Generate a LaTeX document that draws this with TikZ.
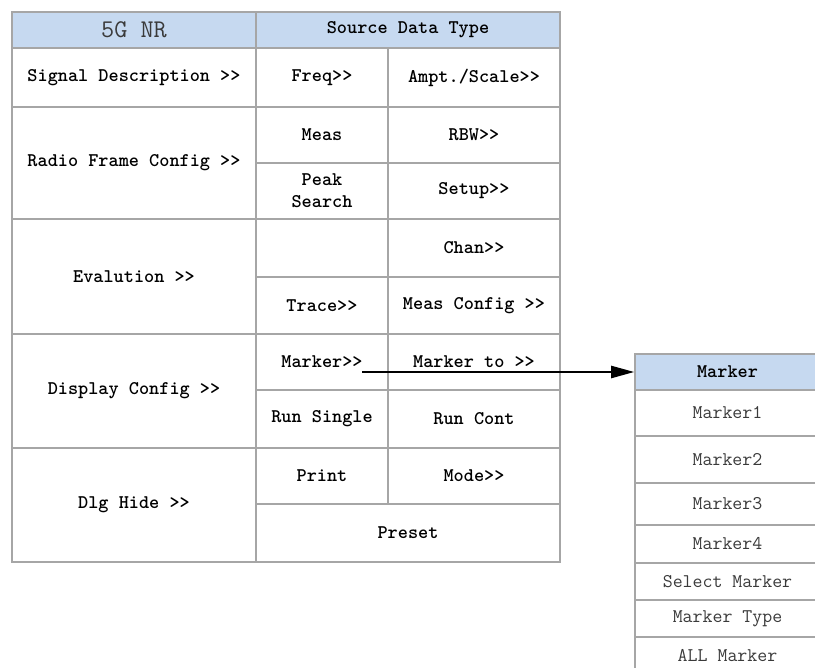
\documentclass[tikz,border=0pt]{standalone}
\usepackage{fontspec}
\usetikzlibrary{arrows.meta}
\definecolor{nrgrid}{HTML}{A6A6A6}
\definecolor{nrhead}{HTML}{C6D9F0}
\definecolor{nrink}{HTML}{000000}
\definecolor{nrmuted}{HTML}{3A3A3A}
\tikzset{
  nrcell/.style={
    draw=nrgrid, line width=1.1pt, inner sep=0pt,
    font=\ttfamily\bfseries\fontsize{11}{12.5}\selectfont,
    text=nrink, align=center},
  nrhead/.style={nrcell, fill=nrhead},
  nritem/.style={nrcell,
    font=\ttfamily\fontsize{11}{12.5}\selectfont, text=nrmuted},
  cellsize/.style 2 args={minimum width=#1*0.02cm,
    minimum height=#2*0.02cm},
  nrarrow/.style={-{Triangle[length=13pt, width=7pt]}, draw=nrink,
    line width=0.8pt},
}

\begin{document}
\begin{tikzpicture}[x=0.02cm, y=-0.02cm]
\clip (0, 0) rectangle (815, 668);
\fill[white] (0, 0) rectangle (815, 668);

% Header row.
\node[nrhead, cellsize={244}{36},
  font=\ttfamily\fontsize{14.5}{16}\selectfont, text=nrmuted]
  (mode) at (134, 30) {5G NR};
\node[nrhead, cellsize={304}{36}] (srctype) at (408, 30)
  {Source Data Type};

% ------------------------------------------------------------ left column
\node[nrcell, cellsize={244}{59}] (sigdesc) at (134, 77.5)
  {Signal Description >>};
\node[nrcell, cellsize={244}{112}] (radio) at (134, 163)
  {Radio Frame Config >>};
\node[nrcell, cellsize={244}{115}] (evalu) at (134, 276.5)
  {Evalution >>};
\node[nrcell, cellsize={244}{114}] (dispconf) at (134, 391)
  {Display Config >>};
\node[nrcell, cellsize={244}{114}] (dlghide) at (134, 505)
  {Dlg Hide >>};

% ------------------------------------------------------------ soft keys
\node[nrcell, cellsize={132}{59}] (freq) at (322, 77.5) {Freq>>};
\node[nrcell, cellsize={172}{59}] (ampt) at (474, 77.5) {Ampt./Scale>>};
\node[nrcell, cellsize={132}{56}] (meas) at (322, 135) {Meas};
\node[nrcell, cellsize={172}{56}] (rbw) at (474, 135) {RBW>>};
\node[nrcell, cellsize={132}{56}] (peak) at (322, 191) {Peak\\Search};
\node[nrcell, cellsize={172}{56}] (setup) at (474, 191) {Setup>>};
\node[nrcell, cellsize={132}{58}] (blank) at (322, 248) {};
\node[nrcell, cellsize={172}{58}] (chan) at (474, 248) {Chan>>};
\node[nrcell, cellsize={132}{57}] (trace) at (322, 305.5) {Trace>>};
\node[nrcell, cellsize={172}{57}] (measconf) at (474, 305.5)
  {Meas Config >>};
\node[nrcell, cellsize={132}{56}] (marker) at (322, 362) {Marker>>};
\node[nrcell, cellsize={172}{56}] (markerto) at (474, 362)
  {Marker to >>};
\node[nrcell, cellsize={132}{58}] (runsingle) at (322, 419) {Run Single};
\node[nrcell, cellsize={172}{58}] (runcont) at (474, 419) {Run Cont};
\node[nrcell, cellsize={132}{56}] (print) at (322, 476) {Print};
\node[nrcell, cellsize={172}{56}] (modekey) at (474, 476) {Mode>>};
\node[nrcell, cellsize={304}{58}] (preset) at (408, 533) {Preset};

% ------------------------------------------------------------ marker menu
\node[nrhead, cellsize={185}{36}] (mkhead) at (727.5, 372) {Marker};
\node[nritem, cellsize={185}{46}] (mkone) at (727.5, 413) {Marker1};
\node[nritem, cellsize={185}{47}] (mktwo) at (727.5, 459.5) {Marker2};
\node[nritem, cellsize={185}{42}] (mkthree) at (727.5, 504) {Marker3};
\node[nritem, cellsize={185}{38}] (mkfour) at (727.5, 544) {Marker4};
\node[nritem, cellsize={185}{37}] (mksel) at (727.5, 581.5)
  {Select Marker};
\node[nritem, cellsize={185}{37}] (mktype) at (727.5, 618.5)
  {Marker Type};
\node[nritem, cellsize={185}{38}] (mkall) at (727.5, 656)
  {ALL Marker};

% Link.
\coordinate (mkstart) at (362, 372);
\draw[nrarrow] (mkstart) -- (mkhead.west);

\end{tikzpicture}
\end{document}
